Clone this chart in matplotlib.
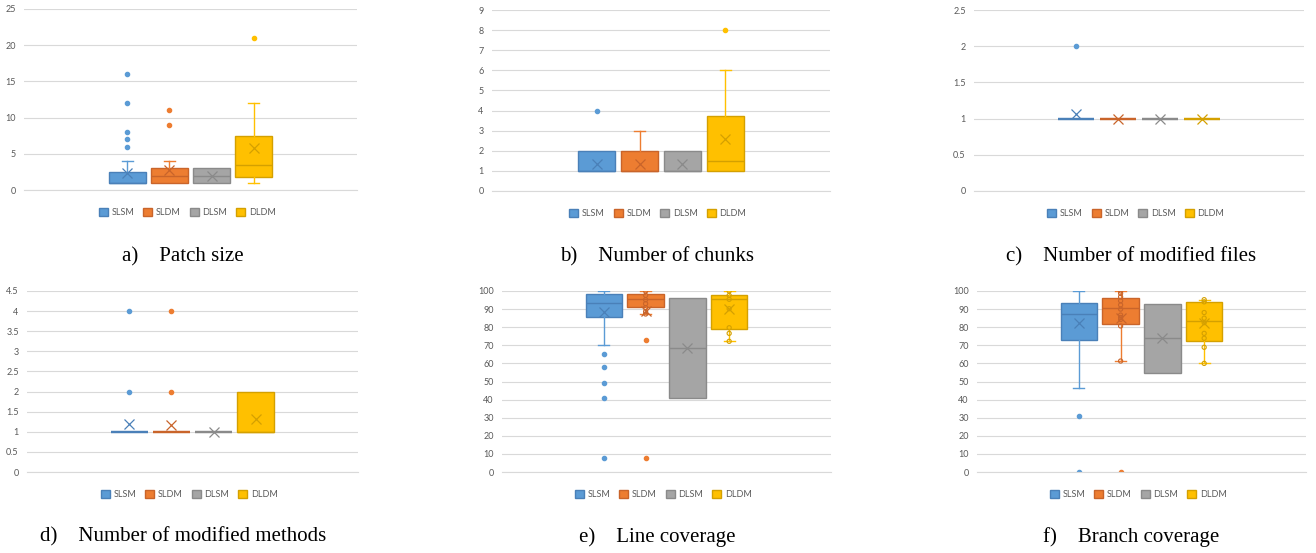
import matplotlib
matplotlib.use("Agg")
import matplotlib.pyplot as plt
from matplotlib.patches import Patch

plt.rcParams["font.family"] = ["Lato", "DejaVu Sans"]

series = ["SLSM", "SLDM", "DLSM", "DLDM"]
fill_colors = ["#5B9BD5", "#ED7D31", "#A5A5A5", "#FFC000"]
edge_colors = ["#4A80B8", "#C9642A", "#8A8A8A", "#D4A000"]

# a) Patch size
patch_q1 = [1, 1, 1, 1.8]
patch_med = [1, 2, 2, 3.5]
patch_q3 = [2.5, 3, 3, 7.5]
patch_lo = [1, 1, 1, 1]
patch_hi = [4, 4, 3, 12]
patch_mean = [2.4, 2.7, 2.0, 5.75]
patch_fliers = [[16, 12, 8, 7, 6], [11, 9], [], [21]]
patch_inner = [[], [], [], []]

# b) Number of chunks
chunk_q1 = [1, 1, 1, 1]
chunk_med = [1, 1, 1, 1.5]
chunk_q3 = [2, 2, 2, 3.75]
chunk_lo = [1, 1, 1, 1]
chunk_hi = [2, 3, 2, 6]
chunk_mean = [1.33, 1.33, 1.33, 2.6]
chunk_fliers = [[4], [], [], [8]]
chunk_inner = [[], [], [], []]

# c) Number of modified files
files_q1 = [1, 1, 1, 1]
files_med = [1, 1, 1, 1]
files_q3 = [1, 1, 1, 1]
files_lo = [1, 1, 1, 1]
files_hi = [1, 1, 1, 1]
files_mean = [1.06, 1.0, 1.0, 1.0]
files_fliers = [[2], [], [], []]
files_inner = [[], [], [], []]

# d) Number of modified methods
meth_q1 = [1, 1, 1, 1]
meth_med = [1, 1, 1, 1]
meth_q3 = [1, 1, 1, 2]
meth_lo = [1, 1, 1, 1]
meth_hi = [1, 1, 1, 2]
meth_mean = [1.19, 1.18, 1.0, 1.31]
meth_fliers = [[4, 2], [4, 2], [], []]
meth_inner = [[], [], [], []]

# e) Line coverage
line_q1 = [85.8, 91.2, 41, 78.8]
line_med = [93.6, 95.4, 68.7, 95.4]
line_q3 = [98.5, 98.2, 96, 97.6]
line_lo = [70.3, 87.3, 41, 72.2]
line_hi = [100, 100, 96, 100]
line_mean = [88.2, 89.0, 68.7, 90.2]
line_fliers = [[65.4, 58, 49, 41, 8], [73, 8], [], []]
line_inner = [[], [100, 97.6, 95.2, 93, 90.8, 88.6, 87.3], [],
              [100, 97.6, 95.4, 90.2, 79.7, 76.6, 72.2]]

# f) Branch coverage
br_q1 = [73.2, 81.8, 54.5, 72.6]
br_med = [87.4, 90.8, 73.8, 83.7]
br_q3 = [93.6, 96.1, 93, 94]
br_lo = [46.6, 61.3, 54.5, 60]
br_hi = [100, 100, 93, 95.2]
br_mean = [82.1, 84.9, 73.8, 82.3]
br_fliers = [[31, 0], [0], [], []]
br_inner = [[], [100, 98.7, 96.8, 94.6, 92.3, 90, 86.7, 85.4, 84.3, 80.7, 61.3], [],
            [95.2, 94, 88.1, 85, 82.5, 76.6, 73.9, 68.9, 60]]

panels = [
    ("a)    Patch size", 25, 5,
     (patch_q1, patch_med, patch_q3, patch_lo, patch_hi, patch_mean, patch_fliers, patch_inner)),
    ("b)    Number of chunks", 9, 1,
     (chunk_q1, chunk_med, chunk_q3, chunk_lo, chunk_hi, chunk_mean, chunk_fliers, chunk_inner)),
    ("c)    Number of modified files", 2.5, 0.5,
     (files_q1, files_med, files_q3, files_lo, files_hi, files_mean, files_fliers, files_inner)),
    ("d)    Number of modified methods", 4.5, 0.5,
     (meth_q1, meth_med, meth_q3, meth_lo, meth_hi, meth_mean, meth_fliers, meth_inner)),
    ("e)    Line coverage", 100, 10,
     (line_q1, line_med, line_q3, line_lo, line_hi, line_mean, line_fliers, line_inner)),
    ("f)    Branch coverage", 100, 10,
     (br_q1, br_med, br_q3, br_lo, br_hi, br_mean, br_fliers, br_inner)),
]

W, H = 1316, 553
# plot areas in pixels: left, right, top, bottom
areas = [(24, 357, 9, 190), (492, 830, 10, 191), (974, 1304, 10, 191),
         (27, 358, 291, 472), (502, 831, 291, 472), (977, 1306, 291, 472)]
caption_x = [183, 657, 1131]
caption_y = [257, 537]

fig = plt.figure(figsize=(W / 100, H / 100), dpi=100)

step = 0.127
bw = 0.111

for k, (caption, ymax, ystep, stats) in enumerate(panels):
    l, r, t, b = areas[k]
    ax = fig.add_axes([l / W, 1 - b / H, (r - l) / W, (b - t) / H])
    q1, med, q3, lo, hi, mean, fliers, inner = stats
    for i in range(4):
        pos = 0.5 + (i - 1.5) * step
        st = dict(q1=q1[i], med=med[i], q3=q3[i], whislo=lo[i], whishi=hi[i],
                  mean=mean[i], fliers=fliers[i])
        flat = q1[i] == q3[i]
        lw = 1.6 if flat else 1.0
        art = ax.bxp([st], positions=[pos], widths=bw, capwidths=bw * 0.3,
                     patch_artist=True, showmeans=True, manage_ticks=False,
                     boxprops=dict(facecolor=fill_colors[i], edgecolor=edge_colors[i], linewidth=lw),
                     medianprops=dict(color=edge_colors[i], linewidth=lw),
                     whiskerprops=dict(color=fill_colors[i], linewidth=1.0),
                     capprops=dict(color=fill_colors[i], linewidth=1.0),
                     meanprops=dict(marker="x", markeredgecolor=edge_colors[i],
                                    markersize=6.5, markeredgewidth=0.9),
                     flierprops=dict(marker="o", markerfacecolor=fill_colors[i],
                                     markeredgecolor=fill_colors[i], markersize=3.0))
        # Excel shows no whisker/cap when it coincides with the box edge
        if lo[i] >= q1[i]:
            art["whiskers"][0].set_visible(False)
            art["caps"][0].set_visible(False)
        if hi[i] <= q3[i]:
            art["whiskers"][1].set_visible(False)
            art["caps"][1].set_visible(False)
        if inner[i]:
            ax.scatter([pos] * len(inner[i]), inner[i], s=9, facecolors="none",
                       edgecolors=edge_colors[i], linewidths=0.8, zorder=4)

    ax.set_xlim(0, 1)
    ax.set_ylim(0, ymax)
    n = int(round(ymax / ystep))
    ticks = [j * ystep for j in range(n + 1)]
    ax.set_yticks(ticks)
    ax.set_yticklabels([f"{v:g}" for v in ticks])
    ax.set_xticks([])
    ax.tick_params(axis="y", length=0, pad=6, labelsize=6.5, labelcolor="#595959")
    ax.grid(axis="y", color="#D9D9D9", linewidth=0.8)
    ax.set_axisbelow(True)
    for s in ["top", "right", "left"]:
        ax.spines[s].set_visible(False)
    ax.spines["bottom"].set_color("#D9D9D9")
    ax.spines["bottom"].set_linewidth(0.8)

    handles = [Patch(facecolor=fill_colors[i], edgecolor=edge_colors[i], label=series[i])
               for i in range(4)]
    ax.legend(handles=handles, loc="center", bbox_to_anchor=(0.49, -0.125), ncol=4,
              frameon=False, fontsize=6.5, handlelength=1.0, handleheight=1.0,
              handletextpad=0.4, columnspacing=1.0, labelcolor="#595959")

    fig.text(caption_x[k % 3] / W, 1 - caption_y[k // 3] / H, caption,
             ha="center", va="center", fontsize=15, family="Liberation Serif")

fig.savefig("out.png", dpi=100)
